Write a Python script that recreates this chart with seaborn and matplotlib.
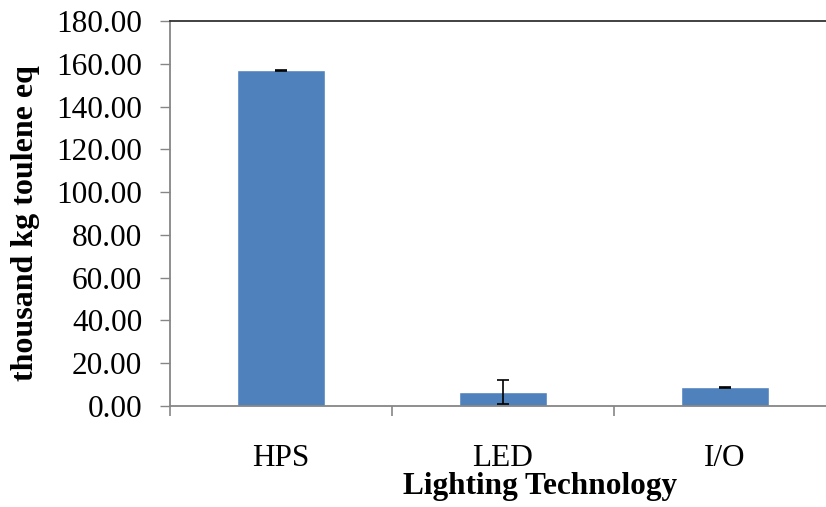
import matplotlib
matplotlib.use("Agg")
import matplotlib.pyplot as plt
import seaborn as sns
import pandas as pd
from matplotlib.ticker import FormatStrFormatter, FixedLocator

categories = ["HPS", "LED", "I/O"]
values = [157.0, 6.7, 8.8]
errors = [0.25, 5.6, 0.25]

sns.set_theme(style="white")
plt.rcParams['font.family'] = ['Liberation Serif', 'DejaVu Serif']
plt.rcParams['text.color'] = 'black'
plt.rcParams['axes.labelcolor'] = 'black'
plt.rcParams['xtick.color'] = 'black'
plt.rcParams['ytick.color'] = 'black'

df = pd.DataFrame({"tech": categories, "val": values})

fig = plt.figure(figsize=(8.26, 5.07), dpi=100)
ax = fig.add_axes([170/826, 1-406/507, (836-170)/826, (406-21)/507])

sns.barplot(data=df, x="tech", y="val", color="#4F81BD", saturation=1,
            width=0.4, errorbar=None, ax=ax, zorder=2)
ax.errorbar(range(len(categories)), values, yerr=errors, fmt="none",
            ecolor="black", elinewidth=1.2, capsize=4.5, capthick=1.2, zorder=3)

ax.set_xlim(-0.5, 2.5)
ax.set_ylim(0, 180)
ax.set_yticks(range(0, 181, 20))
ax.yaxis.set_major_formatter(FormatStrFormatter("%.2f"))

ax.tick_params(axis="y", which="major", direction="out", length=7, width=1,
               color="#868686", labelcolor="black", labelsize=22.5, pad=13, left=True)
ax.tick_params(axis="x", which="major", length=0, labelsize=22.5, pad=27,
               labelcolor="black")
ax.xaxis.set_minor_locator(FixedLocator([-0.5, 0.5, 1.5, 2.5]))
ax.tick_params(axis="x", which="minor", direction="out", length=7, width=1.2,
               color="#868686", bottom=True)

for s in ["left", "bottom"]:
    ax.spines[s].set_color("#868686")
    ax.spines[s].set_linewidth(1.3)
ax.spines["right"].set_visible(False)
ax.spines["top"].set_color("#333333")
ax.spines["top"].set_linewidth(1.3)

ax.set_xlabel("Lighting Technology", fontsize=22.5, fontweight="bold", color="black")
ax.set_ylabel("thousand kg toulene eq", fontsize=23, fontweight="bold", color="black")
ax.xaxis.set_label_coords((540-170)/(836-170), -(472-406)/385)
ax.yaxis.set_label_coords(-(170-40)/666, (406-223)/385)

fig.savefig("out.png", dpi=100)
